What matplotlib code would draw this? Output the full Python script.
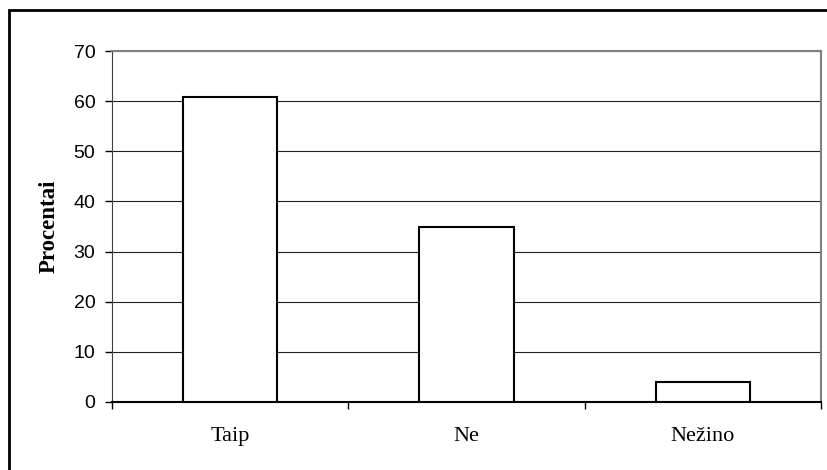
import matplotlib
matplotlib.use('Agg')
import matplotlib.pyplot as plt
from matplotlib.patches import Rectangle

categories = ['Taip', 'Ne', 'Nežino']
values = [60.8, 35.0, 3.9]
yticks = [0, 10, 20, 30, 40, 50, 60, 70]

fig = plt.figure(figsize=(8.27, 4.70), dpi=100)
ax = fig.add_axes([112/827, 1 - 402/470, 709/827, 351/470])

x = range(len(categories))
ax.bar(x, values, width=0.4, color='white', edgecolor='black', linewidth=1.5, zorder=3)

ax.set_xlim(-0.5, len(categories) - 0.5)
ax.set_ylim(0, 70)
ax.set_yticks(yticks)
ax.set_yticklabels([str(v) for v in yticks], fontsize=14, family='Liberation Sans')
ax.yaxis.grid(True, color='#202020', linewidth=0.8, zorder=0)

# category labels centred, ticks between categories
ax.set_xticks([-0.5, 0.5, 1.5, 2.5])
ax.set_xticklabels([])
ax.set_xticks(list(x), minor=True)
ax.set_xticklabels(categories, minor=True, fontsize=16, family='Liberation Serif')
ax.tick_params(axis='x', which='minor', length=0, pad=18)
ax.tick_params(axis='x', which='major', length=5, width=1, direction='out')
ax.tick_params(axis='y', length=5, width=1, direction='out', pad=7)

for s in ['top', 'right']:
    ax.spines[s].set_color('#808080')
    ax.spines[s].set_linewidth(1.5)
ax.spines['left'].set_color('#404040')
ax.spines['bottom'].set_color('black')
ax.spines['bottom'].set_linewidth(1.5)

ax.set_ylabel('Procentai', fontsize=16.5, fontweight='bold', family='Liberation Serif', labelpad=10)

# outer frame, cut off at right and bottom like the original
fig.patches.append(Rectangle((9/827, -0.1), 1.0, 1 - 10/470 + 0.1, transform=fig.transFigure,
                             fill=False, edgecolor='black', linewidth=2))

fig.savefig('out.png', dpi=100)
